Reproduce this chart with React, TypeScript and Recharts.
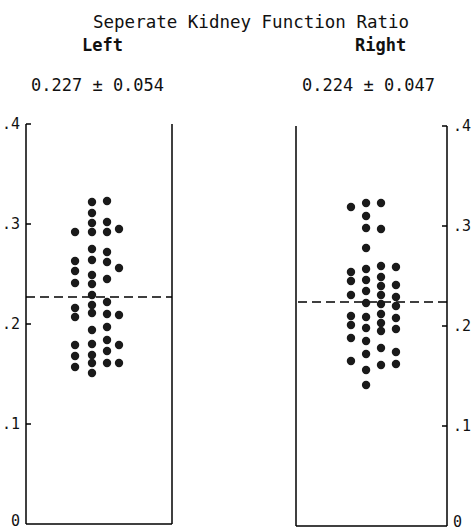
import { ScatterChart, Scatter, XAxis, YAxis, ReferenceLine } from "recharts";

// ─── Data ─────────────────────────────────────────────────────────────
const FONT = "'DejaVu Sans Mono', monospace";
const Y_TICKS = [0, 0.1, 0.2, 0.3, 0.4];

// strip columns (fraction of panel width) for the jittered dots
const LEFT_COLS = [0.336, 0.452, 0.555, 0.637];
const RIGHT_COLS = [0.364, 0.464, 0.563, 0.662];

const leftCol1 = [0.292, 0.263, 0.253, 0.241, 0.216, 0.207, 0.179, 0.168, 0.157];
const leftCol2 = [0.322, 0.311, 0.301, 0.292, 0.275, 0.264, 0.249, 0.24, 0.229, 0.219, 0.211, 0.194, 0.18, 0.169, 0.161, 0.151];
const leftCol3 = [0.323, 0.302, 0.292, 0.272, 0.262, 0.245, 0.222, 0.21, 0.197, 0.184, 0.173, 0.161];
const leftCol4 = [0.295, 0.256, 0.209, 0.179, 0.161];

const rightCol1 = [0.319, 0.254, 0.245, 0.231, 0.21, 0.201, 0.188, 0.165];
const rightCol2 = [0.323, 0.31, 0.298, 0.278, 0.257, 0.246, 0.235, 0.223, 0.209, 0.198, 0.185, 0.172, 0.156, 0.141];
const rightCol3 = [0.323, 0.297, 0.26, 0.249, 0.24, 0.231, 0.222, 0.212, 0.203, 0.195, 0.178, 0.161];
const rightCol4 = [0.259, 0.241, 0.229, 0.22, 0.208, 0.197, 0.174, 0.162];

const LEFT_MEAN = 0.227;
const RIGHT_MEAN = 0.224;

const toPoints = (cols: number[][], xs: number[]) =>
  cols.flatMap((col, i) => col.map((v) => ({ x: xs[i], y: v })));

const leftData = toPoints([leftCol1, leftCol2, leftCol3, leftCol4], LEFT_COLS);
const rightData = toPoints([rightCol1, rightCol2, rightCol3, rightCol4], RIGHT_COLS);

const fmt = (v: number) => (v === 0 ? "0" : "." + Math.round(v * 10));

// ─── Pieces ───────────────────────────────────────────────────────────
const Dot = (p: any) => <circle cx={p.cx} cy={p.cy} r={4.2} fill="#1a1a1a" />;

const LeftTick = ({ x, y, payload }: any) => (
  <g>
    {payload.value !== 0 && <line x1={x} x2={x + 5} y1={y} y2={y} stroke="#000" strokeWidth={1.5} />}
    <text x={x - 6} y={y} dy={payload.value === 0 ? "0.1em" : "0.36em"} textAnchor="end" fontFamily={FONT} fontSize={15} fill="#111">
      {fmt(payload.value)}
    </text>
  </g>
);

const RightTick = ({ x, y, payload }: any) => (
  <g>
    {payload.value !== 0 && <line x1={x - 5} x2={x} y1={y} y2={y} stroke="#000" strokeWidth={1.5} />}
    <text x={x + 6} y={y} dy={payload.value === 0 ? "0.05em" : "0.36em"} textAnchor="start" fontFamily={FONT} fontSize={15} fill="#111">
      {fmt(payload.value)}
    </text>
  </g>
);

const axisLine = { stroke: "#000", strokeWidth: 1.5 };

export default function App() {
  return (
    <div style={{ position: "absolute", left: 0, top: 0, width: 473, height: 531, background: "#fff" }}>
      <div style={{ position: "absolute", left: 0, top: 0 }}>
        <ScatterChart width={180} height={531} margin={{ top: 124, right: 0, bottom: 0, left: 0 }}>
          <XAxis type="number" dataKey="x" domain={[0, 1]} tick={false} tickLine={false} height={7} axisLine={axisLine} />
          <YAxis yAxisId="l" type="number" dataKey="y" domain={[0, 0.4]} ticks={Y_TICKS} width={26} interval={0}
            tickLine={false} tickSize={0} tickMargin={0} tick={<LeftTick />} axisLine={axisLine} />
          <YAxis yAxisId="r" orientation="right" type="number" domain={[0, 0.4]} width={8} tick={false} tickLine={false} axisLine={axisLine} />
          <ReferenceLine yAxisId="l" y={LEFT_MEAN} stroke="#000" strokeWidth={1.5} strokeDasharray="9 5" />
          <Scatter yAxisId="l" data={leftData} shape={<Dot />} isAnimationActive={false} />
        </ScatterChart>
      </div>
      <div style={{ position: "absolute", left: 288, top: 0 }}>
        <ScatterChart width={185} height={531} margin={{ top: 126, right: 0, bottom: 0, left: 0 }}>
          <XAxis type="number" dataKey="x" domain={[0, 1]} tick={false} tickLine={false} height={5} axisLine={axisLine} />
          <YAxis yAxisId="l" type="number" domain={[0, 0.4]} width={8} tick={false} tickLine={false} axisLine={axisLine} />
          <YAxis yAxisId="r" orientation="right" type="number" dataKey="y" domain={[0, 0.4]} ticks={Y_TICKS} width={26} interval={0}
            tickLine={false} tickSize={0} tickMargin={0} tick={<RightTick />} axisLine={axisLine} />
          <ReferenceLine yAxisId="r" y={RIGHT_MEAN} stroke="#000" strokeWidth={1.5} strokeDasharray="9 5" />
          <Scatter yAxisId="r" data={rightData} shape={<Dot />} isAnimationActive={false} />
        </ScatterChart>
      </div>
      <svg width={473} height={120} style={{ position: "absolute", left: 0, top: 0 }}>
        <g fontFamily={FONT} fill="#111">
          <text x={93} y={28} fontSize={17.5}>Seperate Kidney Function Ratio</text>
          <text x={82} y={51} fontSize={17} fontWeight="bold">Left</text>
          <text x={355} y={51} fontSize={17} fontWeight="bold">Right</text>
          <text x={31} y={91} fontSize={17}>0.227 ± 0.054</text>
          <text x={302} y={91} fontSize={17}>0.224 ± 0.047</text>
        </g>
      </svg>
    </div>
  );
}
